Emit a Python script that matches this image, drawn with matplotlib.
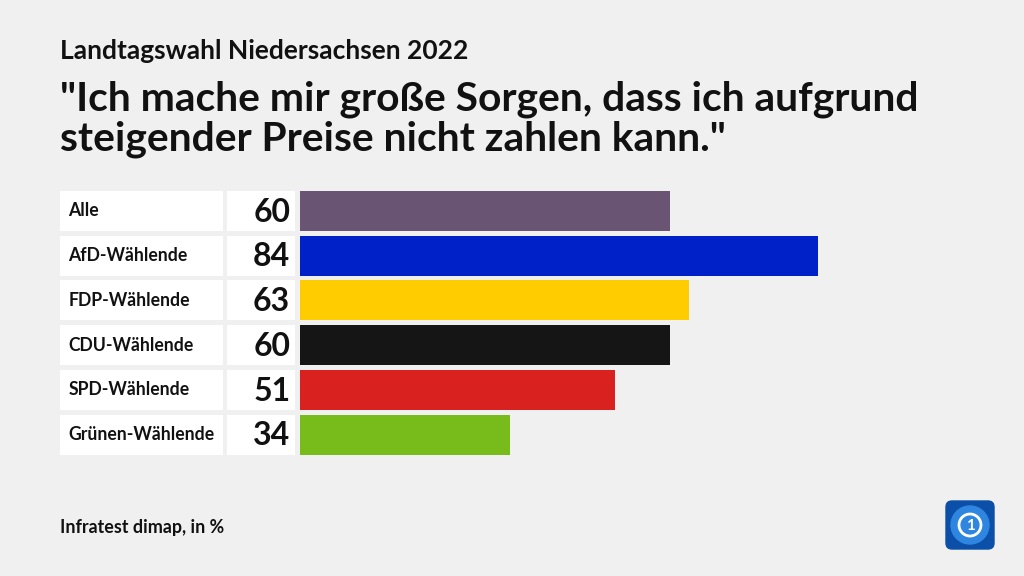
import matplotlib.pyplot as plt
from matplotlib.patches import FancyBboxPatch, Circle

groups = ['Alle', 'AfD-Wählende', 'FDP-Wählende', 'CDU-Wählende', 'SPD-Wählende', 'Grünen-Wählende']
values = [60, 84, 63, 60, 51, 34]
colors = ['#6a5474', '#0021c8', '#ffcc00', '#151515', '#d92120', '#78bc1b']

W, H = 1024, 576
BG = '#f0f0f0'
FONT = 'Lato'
PX_PER_UNIT = 6.17


def main():
    fig = plt.figure(figsize=(W / 100, H / 100), dpi=100, facecolor=BG)

    # rows span from y=188 to y=457 px
    top, bottom = 188.5, 457.0
    ax_bottom = (H - bottom) / H
    ax_height = (bottom - top) / H

    def make_ax(x0, x1):
        ax = fig.add_axes([x0 / W, ax_bottom, (x1 - x0) / W, ax_height])
        ax.set_facecolor('none')
        ax.set_ylim(len(groups) - 0.5, -0.5)
        ax.axis('off')
        return ax

    ypos = list(range(len(groups)))
    bh = 0.89

    # label boxes
    ax_lab = make_ax(60, 223)
    ax_lab.barh(ypos, [1] * len(groups), height=bh, color='white')
    ax_lab.set_xlim(0, 1)
    for y, g in zip(ypos, groups):
        ax_lab.text(0.05, y, g, va='center', ha='left', fontsize=12.7,
                    fontweight='bold', family=FONT, color='#111111')

    # value boxes
    ax_val = make_ax(227, 295)
    ax_val.barh(ypos, [1] * len(groups), height=bh, color='white')
    ax_val.set_xlim(0, 1)
    for y, v in zip(ypos, values):
        ax_val.text(0.93, y + 0.03, str(v), va='center', ha='right', fontsize=23,
                    fontweight='bold', family=FONT, color='#111111')

    # bars
    ax_bar = make_ax(300, W)
    ax_bar.barh(ypos, values, height=bh, color=colors)
    ax_bar.set_xlim(0, (W - 300) / PX_PER_UNIT)

    # titles
    fig.text(60 / W, 1 - 51 / H, 'Landtagswahl Niedersachsen 2022', fontsize=19,
             fontweight='bold', family=FONT, va='center', ha='left', color='#111111')
    title_lines = ['"Ich mache mir große Sorgen, dass ich aufgrund',
                   'steigender Preise nicht zahlen kann."']
    for line, base in zip(title_lines, [111, 151]):
        fig.text(60 / W, 1 - base / H, line, fontsize=29.3, fontweight='bold',
                 family=FONT, va='baseline', ha='left', color='#111111')
    fig.text(60 / W, 1 - 528 / H, 'Infratest dimap, in %', fontsize=12.9,
             fontweight='bold', family=FONT, va='center', ha='left', color='#111111')

    # logo
    ax_logo = fig.add_axes([945 / W, 1 - 550 / H, 50 / W, 50 / H])
    ax_logo.set_xlim(0, 1)
    ax_logo.set_ylim(0, 1)
    ax_logo.axis('off')
    ax_logo.add_patch(FancyBboxPatch((0.02, 0.02), 0.96, 0.96,
                                     boxstyle='round,pad=0,rounding_size=0.12',
                                     color='#0b4fa8'))
    ax_logo.add_patch(Circle((0.5, 0.5), 0.38, color='#2f86e0'))
    ax_logo.add_patch(Circle((0.5, 0.5), 0.22, fill=False, ec='white', lw=2))
    ax_logo.text(0.5, 0.49, '1', color='white', fontsize=11, fontweight='bold',
                 ha='center', va='center', family=FONT)

    fig.savefig('out.png', dpi=100, facecolor=BG)


if __name__ == '__main__':
    main()
